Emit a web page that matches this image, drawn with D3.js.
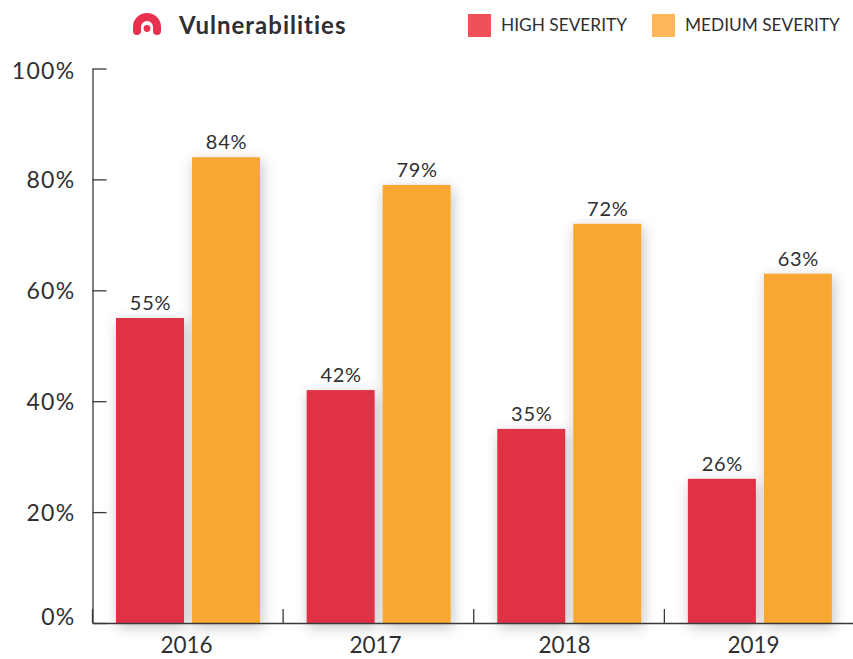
<!DOCTYPE html>
<html>
<head>
<meta charset="utf-8">
<script src="https://cdn.jsdelivr.net/npm/d3@7"></script>
<style>
  html, body { margin: 0; padding: 0; background: #fff; }
  svg { display: block; }
  text { font-family: Lato, "Open Sans", sans-serif; fill: #2f2f32; }
</style>
</head>
<body>
<div id="chart-area"></div>
<script>
const years = ["2016", "2017", "2018", "2019"]
const seriesNames = ["HIGH SEVERITY", "MEDIUM SEVERITY"]
const highSeverity = [55, 42, 35, 26]
const mediumSeverity = [84, 79, 72, 63]
const yTicks = [0, 20, 40, 60, 80, 100]
const barColors = ["#e03045", "#f7a733"]
const legendColors = ["#ee5157", "#fdb759"]

const MARGIN = { LEFT: 92.5, RIGHT: -2, TOP: 68.5, BOTTOM: 36 }
const WIDTH = 853 - MARGIN.LEFT - MARGIN.RIGHT
const HEIGHT = 659 - MARGIN.TOP - MARGIN.BOTTOM

const svg = d3.select("#chart-area").append("svg")
  .attr("width", 853)
  .attr("height", 659)

// Soft shadow behind the bars
const shadow = svg.append("defs").append("filter")
  .attr("id", "bar-shadow")
  .attr("x", "-40%").attr("y", "-10%")
  .attr("width", "180%").attr("height", "125%")
shadow.append("feDropShadow")
  .attr("dx", 2).attr("dy", 4)
  .attr("stdDeviation", 7)
  .attr("flood-color", "#000")
  .attr("flood-opacity", 0.24)

const g = svg.append("g")
  .attr("transform", `translate(${MARGIN.LEFT}, ${MARGIN.TOP})`)

const x = d3.scaleBand()
  .domain(years)
  .range([0, WIDTH])

const x1 = d3.scaleBand()
  .domain(seriesNames)
  .range([23.5, 167.5])
  .paddingInner(8 / 76)

const y = d3.scaleLinear()
  .domain([0, 100])
  .range([HEIGHT, 0])

// The year labels sit on a slightly tighter step than the bars
const xLabel = d3.scalePoint()
  .domain(years)
  .range([94, 661])

const rows = years.map((year, i) => ({
  year,
  values: [
    { name: seriesNames[0], value: highSeverity[i], color: barColors[0] },
    { name: seriesNames[1], value: mediumSeverity[i], color: barColors[1] }
  ]
}))

// Bars
const groups = g.selectAll(".year")
  .data(rows)
  .enter().append("g")
  .attr("class", "year")
  .attr("transform", d => `translate(${x(d.year)}, 0)`)

groups.selectAll("rect")
  .data(d => d.values)
  .enter().append("rect")
  .attr("x", d => x1(d.name))
  .attr("y", d => y(d.value))
  .attr("width", x1.bandwidth())
  .attr("height", d => HEIGHT - y(d.value))
  .attr("fill", d => d.color)
  .attr("filter", "url(#bar-shadow)")

// Value labels
groups.selectAll(".value")
  .data(d => d.values)
  .enter().append("text")
  .attr("class", "value")
  .attr("x", d => x1(d.name) + x1.bandwidth() / 2 + 0.5)
  .attr("y", d => y(d.value) - 8)
  .attr("text-anchor", "middle")
  .attr("font-size", "20px")
  .style("letter-spacing", "0.7px")
  .text(d => d.value + "%")

// Y axis, ticks point inward
const yAxisCall = d3.axisLeft(y)
  .tickValues(yTicks)
  .tickSizeInner(-14)
  .tickSizeOuter(0)
  .tickPadding(17)
  .tickFormat(d => d + "%")
const yAxis = g.append("g")
  .attr("class", "y axis")
  .call(yAxisCall)
yAxis.selectAll("path, line").attr("stroke", "#3a3a3c").attr("stroke-width", 1.3)
yAxis.selectAll("text")
  .attr("font-size", "23px")
  .attr("font-family", "Lato")
  .style("letter-spacing", "1.3px")
  .attr("dy", d => d === 0 ? "0.07em" : d === 100 ? "0.42em" : "0.36em")

// X axis line
const xAxisCall = d3.axisBottom(x)
  .tickSize(0)
  .tickFormat("")
const xAxis = g.append("g")
  .attr("class", "x axis")
  .attr("transform", `translate(0, ${HEIGHT})`)
  .call(xAxisCall)
xAxis.select("path").attr("stroke", "#3a3a3c").attr("stroke-width", 1.6)

// Year labels
xAxis.selectAll(".year-label")
  .data(years)
  .enter().append("text")
  .attr("class", "year-label")
  .attr("x", d => xLabel(d))
  .attr("y", 30)
  .attr("text-anchor", "middle")
  .attr("font-size", "22.5px")
  .text(d => d)

// Separators between the year groups
xAxis.selectAll(".sep")
  .data(years)
  .enter().append("line")
  .attr("class", "sep")
  .attr("x1", d => x(d))
  .attr("x2", d => x(d))
  .attr("y1", 0)
  .attr("y2", -14)
  .attr("stroke", "#3a3a3c")
  .attr("stroke-width", 1.3)

// Title with logo
const logo = svg.append("g").attr("transform", "translate(147, 27)")
logo.append("path")
  .attr("d", "M-10,4 L-10,0 A10,10 0 0 1 10,0 L10,4")
  .attr("fill", "none")
  .attr("stroke", "#e8304f")
  .attr("stroke-width", 8)
  .attr("stroke-linecap", "round")
logo.append("circle")
  .attr("cx", 0).attr("cy", 1.5).attr("r", 3.4)
  .attr("fill", "#e8304f")

svg.append("text")
  .attr("x", 179)
  .attr("y", 34)
  .attr("font-size", "24px")
  .attr("font-weight", 700)
  .style("letter-spacing", "1px")
  .text("Vulnerabilities")

// Legend
const legendX = [468, 652]
const legend = svg.selectAll(".legend")
  .data(seriesNames)
  .enter().append("g")
  .attr("class", "legend")
  .attr("transform", (d, i) => `translate(${legendX[i]}, 14)`)
legend.append("rect")
  .attr("width", 23)
  .attr("height", 23)
  .attr("fill", (d, i) => legendColors[i])
legend.append("text")
  .attr("x", 33)
  .attr("y", 17)
  .attr("font-size", "17.3px")
  .text(d => d)
</script>
</body>
</html>
